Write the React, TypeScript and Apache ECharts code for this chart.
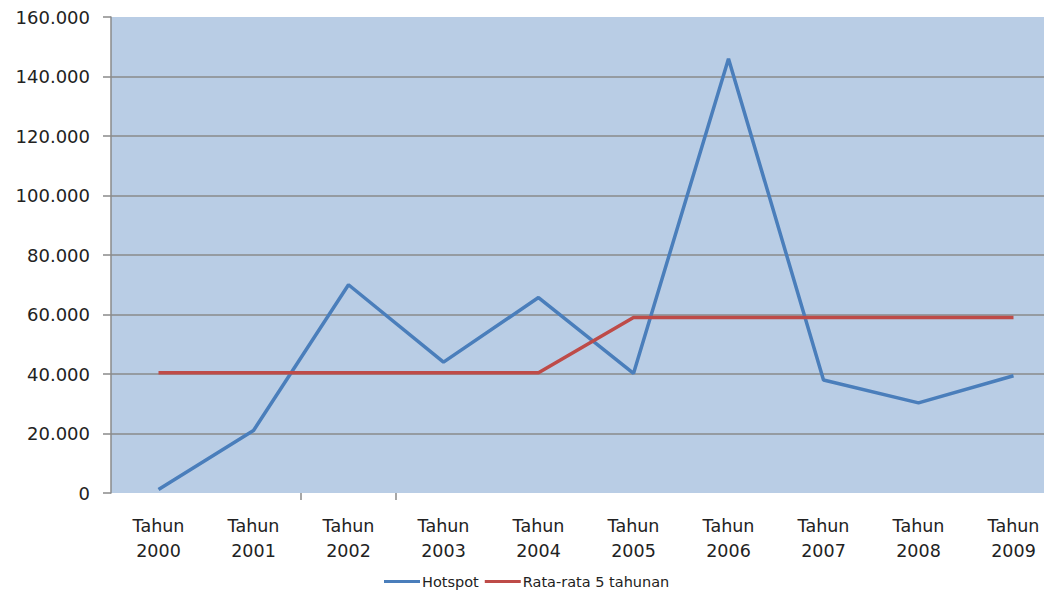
import React, { useEffect, useRef } from "react";
import * as echarts from "echarts";

const categories = ["Tahun\n2000", "Tahun\n2001", "Tahun\n2002", "Tahun\n2003", "Tahun\n2004", "Tahun\n2005", "Tahun\n2006", "Tahun\n2007", "Tahun\n2008", "Tahun\n2009"];
const hotspot = [1200, 21000, 70000, 44000, 65700, 40200, 146000, 38000, 30300, 39400];
const rataRata = [40400, 40400, 40400, 40400, 40400, 59000, 59000, 59000, 59000, 59000];
const seriesNames = ["Hotspot", "Rata-rata 5 tahunan"];

const fmt = (v: number) => (v === 0 ? "0" : `${Math.round(v / 1000)}.000`);

export default function App() {
  const ref = useRef<HTMLDivElement>(null);
  useEffect(() => {
    if (!ref.current) return;
    const chart = echarts.init(ref.current, undefined, { renderer: "svg" });
    const gray = "#8a8a8a";
    chart.setOption({
      animation: false,
      textStyle: { fontFamily: "DejaVu Sans" },
      grid: {
        left: 111,
        top: 17,
        width: 950,
        height: 476,
        show: true,
        backgroundColor: "#b9cde5",
        borderWidth: 0,
      },
      legend: {
        data: seriesNames,
        left: 379,
        top: 569,
        icon: "rect",
        itemWidth: 36,
        itemHeight: 3,
        itemGap: 6,
        textStyle: { fontSize: 14.5, color: "#222", fontFamily: "DejaVu Sans", padding: [0, 0, 0, -3] },
      },
      xAxis: {
        type: "category",
        data: categories,
        boundaryGap: true,
        axisLine: { show: false },
        axisTick: {
          show: true,
          length: 7,
          interval: (i: number) => i === 2 || i === 3,
          lineStyle: { color: gray, width: 1.5 },
        },
        axisLabel: {
          interval: 0,
          margin: 20,
          fontSize: 17.5,
          lineHeight: 25,
          color: "#222",
          fontFamily: "DejaVu Sans",
        },
      },
      yAxis: {
        type: "value",
        min: 0,
        max: 160000,
        interval: 20000,
        axisLine: { show: true, lineStyle: { color: gray, width: 1.5 } },
        axisTick: { show: true, length: 8, lineStyle: { color: gray, width: 1.5 } },
        axisLabel: {
          formatter: fmt,
          margin: 21,
          fontSize: 18,
          color: "#222",
          fontFamily: "DejaVu Sans",
        },
        splitLine: {
          show: true,
          lineStyle: {
            color: ["rgba(0,0,0,0)", gray, gray, gray, gray, gray, gray, gray, "rgba(0,0,0,0)"],
            width: 1.5,
          },
        },
      },
      series: [
        {
          name: seriesNames[0],
          type: "line",
          data: hotspot,
          symbol: "none",
          lineStyle: { color: "#4a7ebb", width: 3.5 },
          itemStyle: { color: "#4a7ebb" },
        },
        {
          name: seriesNames[1],
          type: "line",
          data: rataRata,
          symbol: "none",
          lineStyle: { color: "#be4b48", width: 3.5 },
          itemStyle: { color: "#be4b48" },
        },
      ],
    });
    return () => chart.dispose();
  }, []);
  return (
    <div style={{ position: "fixed", left: 0, top: 0, width: 1044, height: 594, overflow: "hidden", background: "#fff" }}>
      <div ref={ref} style={{ width: 1100, height: 594 }} />
    </div>
  );
}
